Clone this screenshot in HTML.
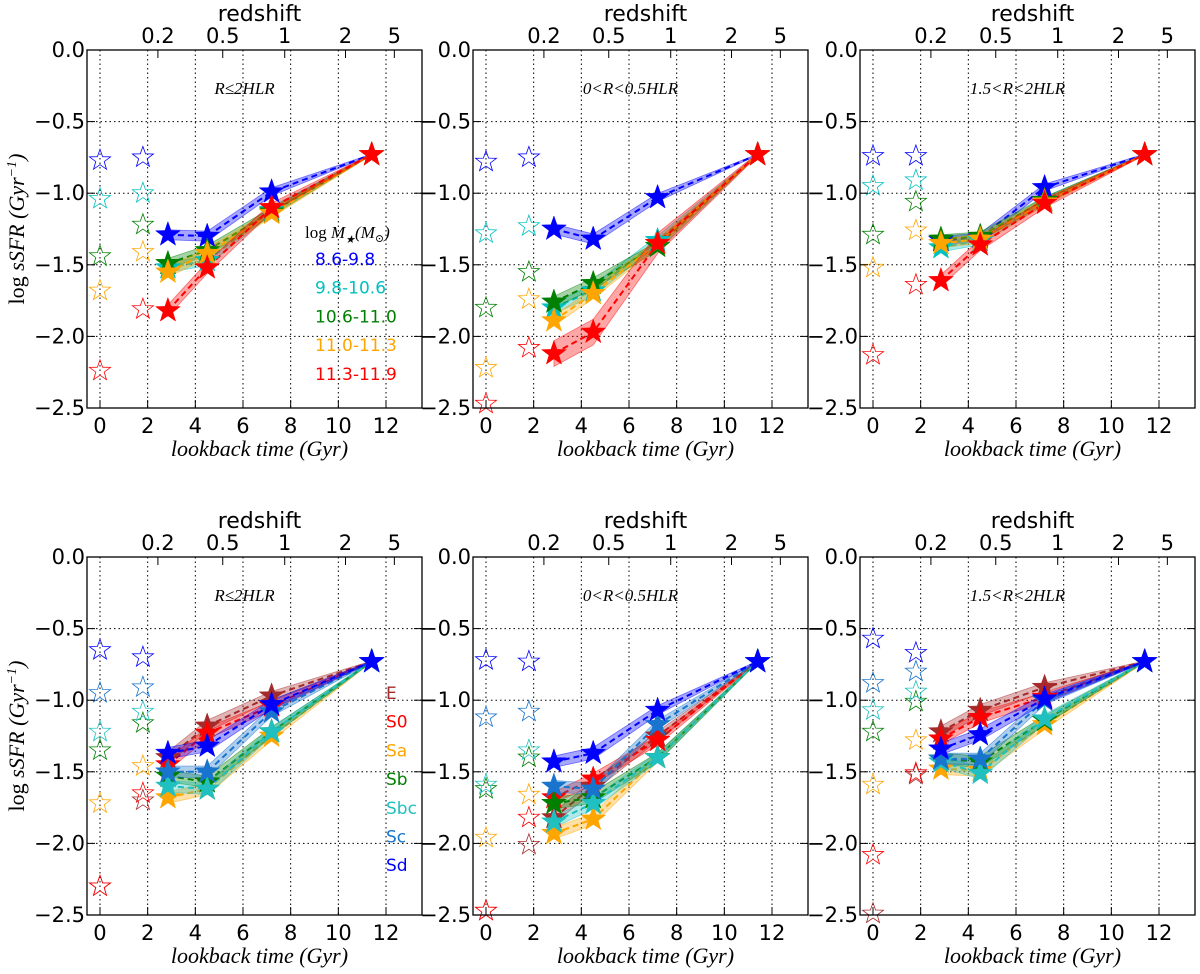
<!DOCTYPE html>
<html><head><meta charset="utf-8"><style>
body{margin:0;background:#fff;}
svg text{font-family:"DejaVu Sans","Liberation Sans",sans-serif;}
.it{font-family:"Liberation Serif","DejaVu Serif",serif;font-style:italic;}
</style></head><body>
<svg id="fig" width="1200" height="969" viewBox="0 0 1200 969" xmlns="http://www.w3.org/2000/svg"></svg>
<script>
const tValues=[2.85,4.5,7.2,11.4];
const hollowX=[0,1.8];
const yTicks=[0,-0.5,-1.0,-1.5,-2.0,-2.5];
const yTickLabels=["0.0","\u22120.5","\u22121.0","\u22121.5","\u22122.0","\u22122.5"];
const xTicks=[0,2,4,6,8,10,12];
const zTickPos=[2.43,5.15,7.75,10.3,12.35];
const zTickLabels=["0.2","0.5","1","2","5"];
const massNames=["8.6-9.8","9.8-10.6","10.6-11.0","11.0-11.3","11.3-11.9"];
const massColors=["#0000ff","#00c0c0","#008000","#ffa500","#ff0000"];
const typeNames=["E","S0","Sa","Sb","Sbc","Sc","Sd"];
const typeColors=["#a52a2a","#ff0000","#ffa500","#008000","#20c0c0","#1874cd","#0000ff"];
const titles=["R\u22642HLR","0<R<0.5HLR","1.5<R<2HLR"];
const massP1=[[-1.29,-1.30,-0.99,-0.73],[-1.52,-1.47,-1.12,-0.73],[-1.49,-1.40,-1.13,-0.73],[-1.55,-1.42,-1.14,-0.73],[-1.82,-1.52,-1.10,-0.73]];
const massP1h0=[-0.77,-1.04,-1.44,-1.68,-2.24];
const massP1h1=[-0.75,-1.00,-1.22,-1.41,-1.81];
const massP2=[[-1.25,-1.32,-1.03,-0.73],[-1.80,-1.68,-1.33,-0.73],[-1.76,-1.63,-1.37,-0.73],[-1.89,-1.70,-1.35,-0.73],[-2.12,-1.97,-1.35,-0.73]];
const massP2h0=[-0.78,-1.28,-1.80,-2.22,-2.47];
const massP2h1=[-0.75,-1.23,-1.55,-1.74,-2.08];
const massP3=[[-1.33,-1.31,-0.96,-0.73],[-1.38,-1.33,-1.05,-0.73],[-1.32,-1.30,-1.05,-0.73],[-1.35,-1.32,-1.06,-0.73],[-1.61,-1.36,-1.07,-0.73]];
const massP3h0=[-0.74,-0.95,-1.29,-1.52,-2.13];
const massP3h1=[-0.74,-0.91,-1.06,-1.26,-1.64];
const massBand=[[0.035,0.035,0.035,0.035,0.04],[0.035,0.04,0.04,0.035,0.09],[0.03,0.03,0.03,0.03,0.04]];
const typeP1=[[-1.40,-1.18,-0.97,-0.73],[-1.45,-1.23,-1.04,-0.73],[-1.68,-1.62,-1.25,-0.73],[-1.53,-1.57,-1.22,-0.73],[-1.60,-1.62,-1.22,-0.73],[-1.50,-1.50,-1.08,-0.73],[-1.37,-1.32,-1.03,-0.73]];
const typeP1h0=[-2.30,-2.30,-1.72,-1.35,-1.22,-0.95,-0.65];
const typeP1h1=[-1.70,-1.65,-1.46,-1.16,-1.08,-0.91,-0.70];
const typeP2=[[-1.82,-1.60,-1.25,-0.73],[-1.68,-1.55,-1.28,-0.73],[-1.93,-1.83,-1.40,-0.73],[-1.72,-1.68,-1.40,-0.73],[-1.85,-1.72,-1.40,-0.73],[-1.60,-1.62,-1.17,-0.73],[-1.43,-1.37,-1.07,-0.73]];
const typeP2h0=[-2.47,-2.47,-1.96,-1.62,-1.59,-1.12,-0.72];
const typeP2h1=[-2.01,-1.82,-1.66,-1.40,-1.35,-1.08,-0.73];
const typeP3=[[-1.22,-1.07,-0.91,-0.73],[-1.27,-1.12,-0.98,-0.73],[-1.48,-1.49,-1.17,-0.73],[-1.41,-1.43,-1.14,-0.73],[-1.43,-1.51,-1.13,-0.73],[-1.41,-1.41,-1.00,-0.73],[-1.34,-1.24,-0.99,-0.73]];
const typeP3h0=[-2.49,-2.08,-1.59,-1.22,-1.07,-0.88,-0.57];
const typeP3h1=[-1.52,-1.51,-1.28,-1.01,-0.94,-0.80,-0.67];

const NS="http://www.w3.org/2000/svg";
const svg=document.getElementById('fig');
function mk(tag,attrs,parent,text){const e=document.createElementNS(NS,tag);for(const k in attrs)e.setAttribute(k,attrs[k]);if(text!==undefined)e.textContent=text;(parent||svg).appendChild(e);return e;}
function starPath(cx,cy,R){const r=R*0.4;let d="";for(let i=0;i<10;i++){const a=-Math.PI/2+i*Math.PI/5;const rr=i%2?r:R;d+=(i?"L":"M")+(cx+rr*Math.cos(a)).toFixed(1)+","+(cy+rr*Math.sin(a)).toFixed(1);}return d+"Z";}
const lefts=[87,473,860],tops=[50,557],W=335,H=358,XMIN=-0.545,XMAX=13.51,YMIN=-2.5,YMAX=0;
const taper=[1,1,0.8,0.1];

function panel(col,row,series,h0,h1,colors,bands,title){
  const L=lefts[col],T=tops[row];
  const X=v=>L+(v-XMIN)/(XMAX-XMIN)*W, Y=v=>T+(YMAX-v)/(YMAX-YMIN)*H;
  const g=mk('g',{});
  
  
  xTicks.forEach(t=>{const l=mk('line',{x1:X(t),x2:X(t),y1:T,y2:T+H,stroke:'#000','stroke-width':1,'stroke-dasharray':'1.5,3'},g);});
  yTicks.slice(1,5).forEach(t=>{const l=mk('line',{x1:L,x2:L+W,y1:Y(t),y2:Y(t),stroke:'#000','stroke-width':1,'stroke-dasharray':'1.5,3'},g);});
  const tt=mk('text',{x:L+W/2-10,y:T+44,'text-anchor':'middle','font-size':17,class:'it'},g,title);
  
  colors.forEach((c,i)=>{
    [[hollowX[0],h0[i]],[hollowX[1],h1[i]]].forEach(p=>{
      const s=mk('path',{d:starPath(X(p[0]),Y(p[1]),11),fill:'none',stroke:c,'stroke-width':0.8},g);
      
    });
  });
  series.forEach((vals,i)=>{
    const b=bands[i]||0.035;
    const up=vals.map((v,j)=>X(tValues[j])+','+Y(v+b*taper[j])).join(' ');
    const dn=vals.map((v,j)=>X(tValues[j])+','+Y(v-b*taper[j])).reverse().join(' ');
    const poly=mk('polygon',{points:up+' '+dn,fill:colors[i],'fill-opacity':0.35,stroke:colors[i],'stroke-opacity':0.5,'stroke-width':0.8},g);
    
    const pts=vals.map((v,j)=>X(tValues[j])+','+Y(v)).join(' ');
    const pl=mk('polyline',{points:pts,fill:'none',stroke:colors[i],'stroke-width':2,'stroke-dasharray':'6,4'},g);
    
  });
  series.forEach((vals,i)=>{
    vals.forEach((v,j)=>{
      const s=mk('path',{d:starPath(X(tValues[j]),Y(v),13),fill:colors[i],stroke:colors[i],'stroke-width':0.5},g);
      
    });
  });
  const fr=mk('rect',{x:L,y:T,width:W,height:H,fill:'none',stroke:'#000','stroke-width':1.3},g);
  
  yTicks.forEach((t,k)=>{
    mk('line',{x1:L,x2:L+8,y1:Y(t),y2:Y(t),stroke:'#000','stroke-width':1},g);
    mk('line',{x1:L+W-8,x2:L+W,y1:Y(t),y2:Y(t),stroke:'#000','stroke-width':1},g);
    const tl=mk('text',{x:L-2,y:Y(t)+7,'text-anchor':'end','font-size':21},g,yTickLabels[k]);
    
  });
  xTicks.forEach(t=>{
    mk('line',{x1:X(t),x2:X(t),y1:T+H,y2:T+H-8,stroke:'#000','stroke-width':1},g);
    const tl=mk('text',{x:X(t),y:T+H+25,'text-anchor':'middle','font-size':21},g,String(t));
    
  });
  zTickPos.forEach((t,k)=>{
    mk('line',{x1:X(t),x2:X(t),y1:T,y2:T+8,stroke:'#000','stroke-width':1},g);
    const tl=mk('text',{x:X(t),y:T-7,'text-anchor':'middle','font-size':21},g,zTickLabels[k]);
    
  });
  const zl=mk('text',{x:L+W/2+5,y:T-29,'text-anchor':'middle','font-size':22},g,'redshift');
  
  const xl=mk('text',{x:L+W/2+5,y:T+H+48,'text-anchor':'middle','font-size':22,class:'it'},g,'lookback time (Gyr)');
  
  if(col===0){
    const yl=mk('text',{x:0,y:0,'text-anchor':'middle','font-size':22,class:'it',transform:`translate(24,${T+H/2}) rotate(-90)`},g);
    mk('tspan',{'font-style':'normal'},yl,'log ');
    mk('tspan',{},yl,'sSFR (Gyr');
    mk('tspan',{dy:-8,'font-size':14},yl,'\u22121');
    mk('tspan',{dy:8},yl,')');
    
  }
}
panel(0,0,massP1,massP1h0,massP1h1,massColors,massBand[0],titles[0]);
panel(1,0,massP2,massP2h0,massP2h1,massColors,massBand[1],titles[1]);
panel(2,0,massP3,massP3h0,massP3h1,massColors,massBand[2],titles[2]);
const tb=[0.04,0.04,0.04,0.04,0.04,0.04,0.04];
panel(0,1,typeP1,typeP1h0,typeP1h1,typeColors,tb,titles[0]);
panel(1,1,typeP2,typeP2h0,typeP2h1,typeColors,tb,titles[1]);
panel(2,1,typeP3,typeP3h0,typeP3h1,typeColors,tb,titles[2]);
const lh=mk('text',{x:305,y:238,'font-size':17,class:'it'},svg);
mk('tspan',{'font-style':'normal'},lh,'log ');mk('tspan',{},lh,'M');mk('tspan',{dy:5,'font-size':11},lh,'\u2605');mk('tspan',{dy:-5},lh,'(M');mk('tspan',{dy:4,'font-size':11},lh,'\u2299');mk('tspan',{dy:-4},lh,')');

massNames.forEach((n,i)=>{const t=mk('text',{x:315,y:265+i*28.7,'font-size':17,fill:massColors[i]},svg,n);
  });
typeNames.forEach((n,i)=>{const t=mk('text',{x:386,y:699+i*28.7,'font-size':17,fill:typeColors[i]},svg,n);
  });
</script>
</body></html>
